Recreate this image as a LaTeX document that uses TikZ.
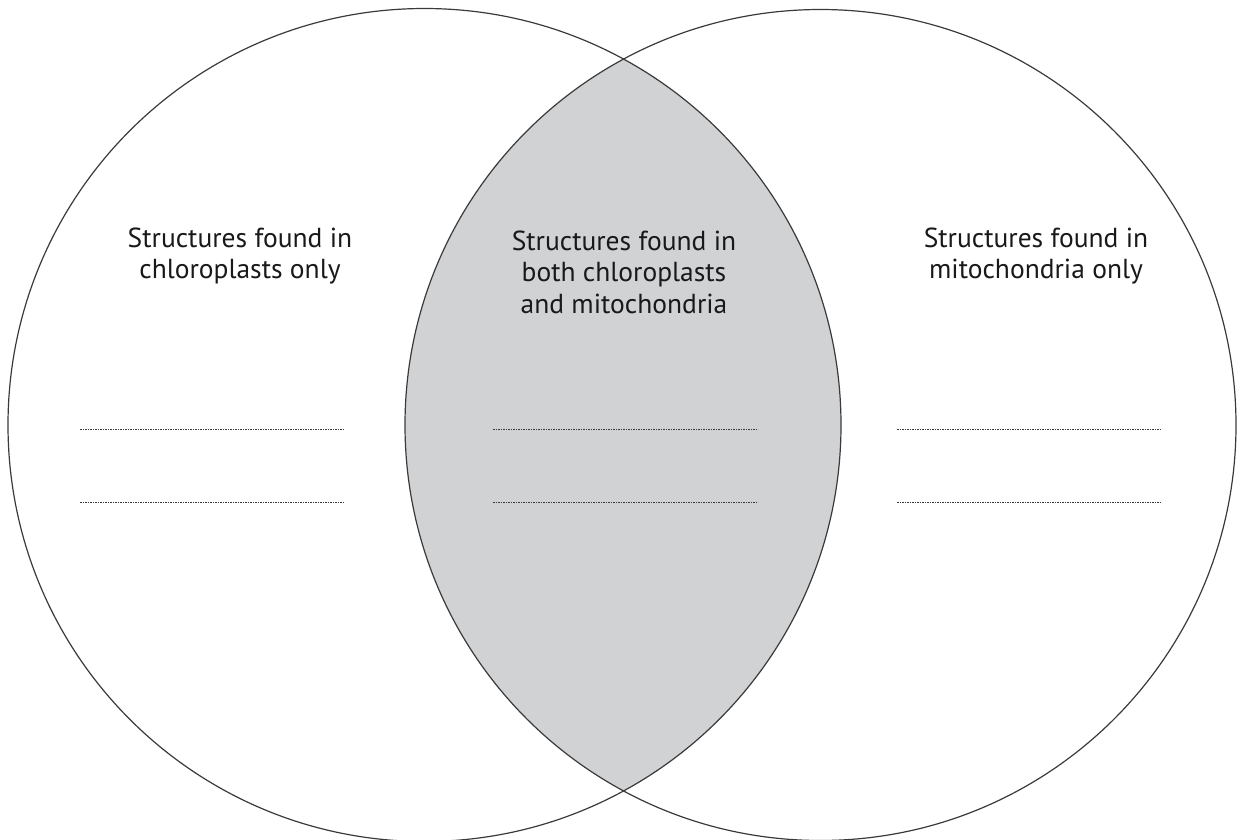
\documentclass[tikz,border=0pt]{standalone}
\usepackage{fontspec}
\setmainfont{PT Sans}
\definecolor{lensgray}{HTML}{D1D2D4}
\definecolor{linegray}{HTML}{3A3A3A}
\begin{document}
\begin{tikzpicture}[x=1pt,y=-1pt,
  ring/.style={draw=linegray,line width=1.2pt},
  label/.style={align=center,font=\fontsize{27.5}{31.5}\selectfont,text=black!90,inner sep=0pt},
  blank/.style={draw=linegray,line width=1pt,dash pattern=on 1.6pt off 0.9pt}]
\useasboundingbox (0,0) rectangle (1237,839);
\begin{scope}
  \clip (424.5,425) circle[radius=416.5];
  \fill[lensgray] (820.5,425) circle[radius=415.5];
\end{scope}
\draw[ring] (424.5,425) circle[radius=416.5];
\draw[ring] (820.5,425) circle[radius=415.5];
\node[label] (l) at (240,256) {Structures found in\\chloroplasts only};
\node[label] (m) at (624,272) {Structures found in\\both chloroplasts\\and mitochondria};
\node[label] (r) at (1036,256) {Structures found in\\mitochondria only};
\coordinate (l1a) at (80,429); \coordinate (l1b) at (343,429);
\coordinate (l2a) at (80,502); \coordinate (l2b) at (343,502);
\coordinate (m1a) at (493,429); \coordinate (m1b) at (758,429);
\coordinate (m2a) at (493,502); \coordinate (m2b) at (758,502);
\coordinate (r1a) at (897,429); \coordinate (r1b) at (1161,429);
\coordinate (r2a) at (897,502); \coordinate (r2b) at (1161,502);
\draw[blank] (l1a) -- (l1b);
\draw[blank] (l2a) -- (l2b);
\draw[blank] (m1a) -- (m1b);
\draw[blank] (m2a) -- (m2b);
\draw[blank] (r1a) -- (r1b);
\draw[blank] (r2a) -- (r2b);
\end{tikzpicture}
\end{document}
